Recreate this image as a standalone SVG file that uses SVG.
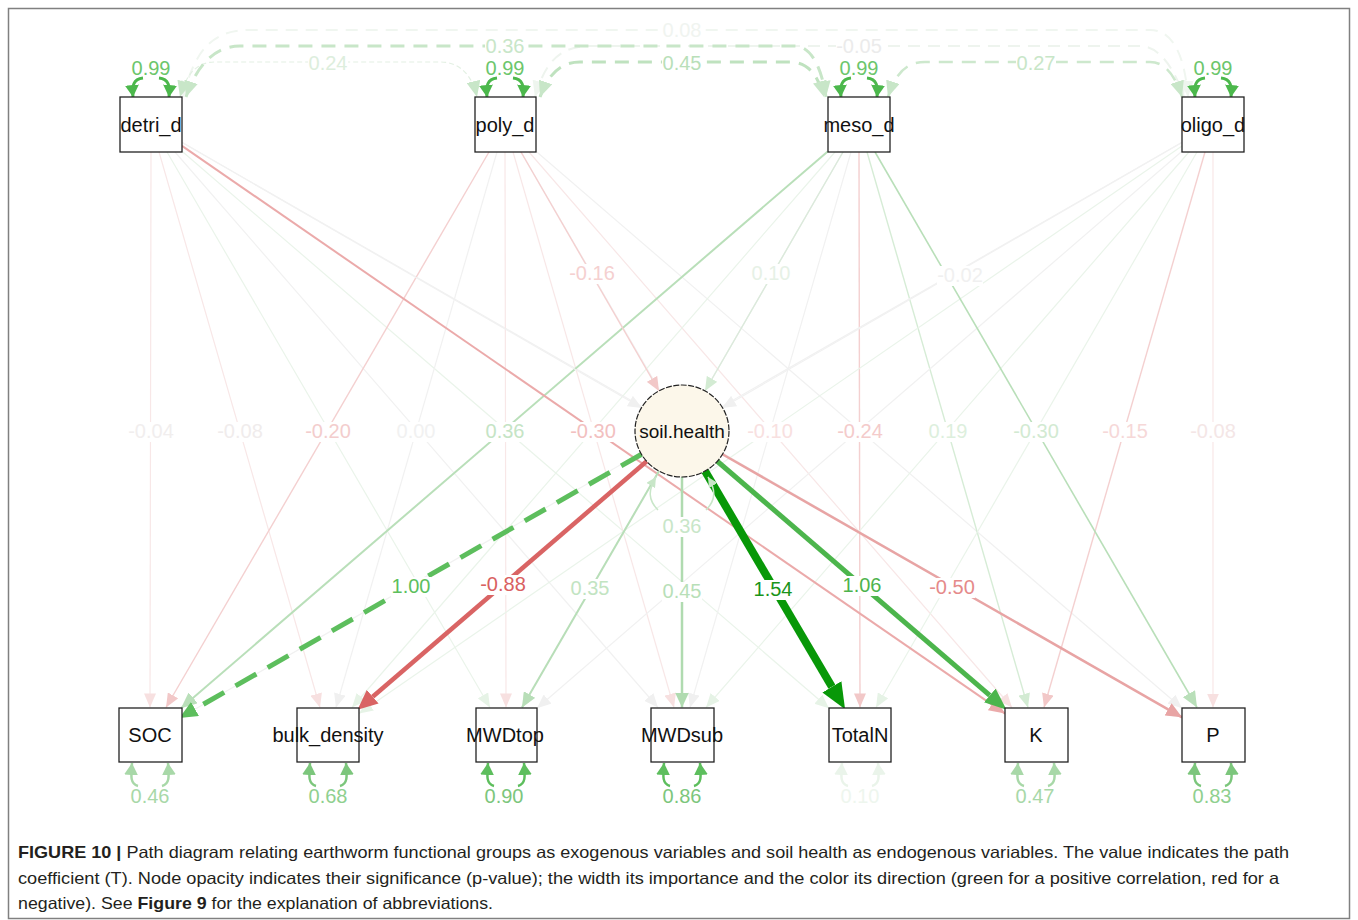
<svg xmlns="http://www.w3.org/2000/svg" width="1358" height="920" viewBox="0 0 1358 920">
<style>
text{font-family:"Liberation Sans",Arial,sans-serif}
.lbl{font-size:20px;text-anchor:middle}
.nt{font-size:20px;text-anchor:middle;fill:#111}
.box{fill:#fff;stroke:#222;stroke-width:1.3}
.lb{fill:#fff}
.vf{stroke:#F1F1F1;stroke-width:1.2;fill:none;marker-end:url(#a-vf)}
.fr{stroke:#F8E7E7;stroke-width:1.2;fill:none;marker-end:url(#a-fr)}
.fg{stroke:#EAF4EA;stroke-width:1.2;fill:none;marker-end:url(#a-fg)}
.r2{stroke:#EBAAAA;stroke-width:2;fill:none;marker-end:url(#a-r2)}
.g2{stroke:#B9DFB9;stroke-width:2;fill:none;marker-end:url(#a-g2)}
.pr{stroke:#F4D0D0;stroke-width:1.4;fill:none;marker-end:url(#a-pr)}
.pg{stroke:#D6ECD6;stroke-width:1.4;fill:none;marker-end:url(#a-pg)}
.self{fill:none;stroke:#4CB84C;stroke-width:3;marker-end:url(#a-self)}
.cap{font-family:"Liberation Sans Narrow","Liberation Sans",Arial,sans-serif;font-size:16.5px;fill:#231F20}
</style>
<defs>
<marker id="a-vf" markerUnits="userSpaceOnUse" markerWidth="14" markerHeight="12" refX="14" refY="6" orient="auto"><path d="M0,0L14,6L0,12z" fill="#F0F0F0"/></marker>
<marker id="a-fr" markerUnits="userSpaceOnUse" markerWidth="14" markerHeight="12" refX="14" refY="6" orient="auto"><path d="M0,0L14,6L0,12z" fill="#F7E0E0"/></marker>
<marker id="a-fg" markerUnits="userSpaceOnUse" markerWidth="14" markerHeight="12" refX="14" refY="6" orient="auto"><path d="M0,0L14,6L0,12z" fill="#E6F3E6"/></marker>
<marker id="a-r2" markerUnits="userSpaceOnUse" markerWidth="16" markerHeight="14" refX="16" refY="7" orient="auto"><path d="M0,0L16,7L0,14z" fill="#EBAAAA"/></marker>
<marker id="a-g2" markerUnits="userSpaceOnUse" markerWidth="16" markerHeight="14" refX="16" refY="7" orient="auto"><path d="M0,0L16,7L0,14z" fill="#B9DFB9"/></marker>
<marker id="a-pr" markerUnits="userSpaceOnUse" markerWidth="14" markerHeight="12" refX="14" refY="6" orient="auto"><path d="M0,0L14,6L0,12z" fill="#F2C8C8"/></marker>
<marker id="a-pg" markerUnits="userSpaceOnUse" markerWidth="14" markerHeight="12" refX="14" refY="6" orient="auto"><path d="M0,0L14,6L0,12z" fill="#D3EBD3"/></marker>
<marker id="a-self" markerUnits="userSpaceOnUse" markerWidth="12" markerHeight="14" refX="12" refY="7" orient="auto"><path d="M0,0L12,7L0,14z" fill="#4CB84C"/></marker>
<marker id="a-cov" markerUnits="userSpaceOnUse" markerWidth="16" markerHeight="14" refX="16" refY="7" orient="auto-start-reverse"><path d="M0,0L16,7L0,14z" fill="#C8E6C8"/></marker>
<marker id="a-covf" markerUnits="userSpaceOnUse" markerWidth="16" markerHeight="14" refX="16" refY="7" orient="auto-start-reverse"><path d="M0,0L16,7L0,14z" fill="#EEF5EE"/></marker>
<marker id="a-res1" markerUnits="userSpaceOnUse" markerWidth="12" markerHeight="14" refX="12" refY="7" orient="auto"><path d="M0,0L12,7L0,14z" fill="#A8D8A8"/></marker>
<marker id="a-res2" markerUnits="userSpaceOnUse" markerWidth="12" markerHeight="14" refX="12" refY="7" orient="auto"><path d="M0,0L12,7L0,14z" fill="#7CC67C"/></marker>
<marker id="a-res3" markerUnits="userSpaceOnUse" markerWidth="12" markerHeight="14" refX="12" refY="7" orient="auto"><path d="M0,0L12,7L0,14z" fill="#5DBE5D"/></marker>
<marker id="a-res4" markerUnits="userSpaceOnUse" markerWidth="12" markerHeight="14" refX="12" refY="7" orient="auto"><path d="M0,0L12,7L0,14z" fill="#EAF4EA"/></marker>
<marker id="a-sh" markerUnits="userSpaceOnUse" markerWidth="10" markerHeight="10" refX="10" refY="5" orient="auto"><path d="M0,0L10,5L0,10z" fill="#C8E6C8"/></marker>
<marker id="m-soc" markerUnits="userSpaceOnUse" markerWidth="18" markerHeight="16" refX="0" refY="8" orient="auto"><path d="M0,0L18,8L0,16z" fill="#5DBE5D"/></marker>
<marker id="m-bd" markerUnits="userSpaceOnUse" markerWidth="20" markerHeight="18" refX="0" refY="9" orient="auto"><path d="M0,0L20,9L0,18z" fill="#D96464"/></marker>
<marker id="m-mt" markerUnits="userSpaceOnUse" markerWidth="15" markerHeight="13" refX="15" refY="6.5" orient="auto"><path d="M0,0L15,6.5L0,13z" fill="#B8DEB8"/></marker>
<marker id="m-ms" markerUnits="userSpaceOnUse" markerWidth="15" markerHeight="14" refX="15" refY="7" orient="auto"><path d="M0,0L15,7L0,14z" fill="#B0DBB0"/></marker>
<marker id="m-tn" markerUnits="userSpaceOnUse" markerWidth="26" markerHeight="22" refX="0" refY="11" orient="auto"><path d="M0,0L26,11L0,22z" fill="#089808"/></marker>
<marker id="m-k" markerUnits="userSpaceOnUse" markerWidth="22" markerHeight="18" refX="0" refY="9" orient="auto"><path d="M0,0L22,9L0,18z" fill="#4CB54C"/></marker>
<marker id="m-p" markerUnits="userSpaceOnUse" markerWidth="16" markerHeight="14" refX="16" refY="7" orient="auto"><path d="M0,0L16,7L0,14z" fill="#E8A4A4"/></marker>
</defs>
<rect width="1358" height="920" fill="#fff"/>
<rect x="8.5" y="8.5" width="1341" height="910" fill="none" stroke="#808080" stroke-width="1.5"/>

<g id="connectors">
<!-- detri_d -> observed -->
<line class="fr" x1="151" y1="152" x2="150" y2="707.5"/>
<line class="fr" x1="159" y1="152" x2="320" y2="707.5"/>
<line class="fg" x1="167" y1="152" x2="490" y2="707.5"/>
<line class="vf" x1="175" y1="152" x2="658" y2="707.5"/>
<line class="fg" x1="182" y1="151.2" x2="829" y2="708.3"/>
<line class="vf" x1="182" y1="142.3" x2="1182" y2="717.2"/>
<!-- poly_d -> observed -->
<line class="pr" x1="489" y1="152" x2="166" y2="707.5"/>
<line class="vf" x1="497" y1="152" x2="336" y2="707.5"/>
<line class="fr" x1="505" y1="152" x2="506" y2="707.5"/>
<line class="fr" x1="513" y1="152" x2="674" y2="707.5"/>
<line class="vf" x1="521" y1="152" x2="844" y2="707.5"/>
<line class="fr" x1="529" y1="152" x2="1012" y2="707.5"/>
<line class="vf" x1="536" y1="151.2" x2="1182" y2="708.3"/>
<!-- meso_d -> observed -->
<line class="fg" x1="835" y1="152" x2="352" y2="707.5"/>
<line class="fg" x1="843" y1="152" x2="522" y2="707.5"/>
<line class="vf" x1="851" y1="152" x2="690" y2="707.5"/>
<line class="pr" x1="859" y1="152" x2="860" y2="707.5"/>
<line class="pg" x1="867" y1="152" x2="1028" y2="707.5"/>
<!-- oligo_d -> observed -->
<line class="vf" x1="1182" y1="142.3" x2="181" y2="717.2"/>
<line class="fg" x1="1182" y1="145.9" x2="359" y2="713.6"/>
<line class="vf" x1="1182" y1="151.3" x2="537" y2="708.2"/>
<line class="fg" x1="1189" y1="152" x2="706" y2="707.5"/>
<line class="fg" x1="1197" y1="152" x2="876" y2="707.5"/>
<line class="pr" x1="1205" y1="152" x2="1044" y2="707.5"/>
<line class="fr" x1="1213" y1="152" x2="1213" y2="707.5"/>
<!-- visible ones on top -->
<line class="g2" x1="828" y1="151.2" x2="181" y2="708.3"/>
<line class="g2" x1="875" y1="152" x2="1197" y2="707.5" style="stroke-width:1.6"/>
<line class="r2" x1="182" y1="145.9" x2="1005" y2="713.6"/>
<!-- exogenous -> soil.health -->
<line class="vf" x1="182" y1="142.4" x2="642" y2="408"/>
<line class="pr" x1="521" y1="152" x2="659" y2="391"/>
<line class="pg" x1="843" y1="152" x2="705" y2="391" style="stroke:#DCE9DC"/>
<line class="vf" x1="1182" y1="142.4" x2="722" y2="408"/>
<!-- soil.health -> observed -->
<line x1="642" y1="454" x2="195" y2="709" stroke="#5DBE5D" stroke-width="5" stroke-dasharray="24 13" marker-end="url(#m-soc)"/>
<line x1="647" y1="461" x2="372.7" y2="696.7" stroke="#D96464" stroke-width="4.5" marker-end="url(#m-bd)"/>
<line x1="659" y1="471" x2="522" y2="707.5" stroke="#B8DEB8" stroke-width="2" marker-end="url(#m-mt)"/>
<line x1="682" y1="477" x2="682" y2="707.5" stroke="#B0DBB0" stroke-width="2.5" marker-end="url(#m-ms)"/>
<line x1="705" y1="471" x2="831.9" y2="686.8" stroke="#089808" stroke-width="8" marker-end="url(#m-tn)"/>
<line x1="717" y1="461" x2="989.8" y2="695.4" stroke="#4CB54C" stroke-width="5" marker-end="url(#m-k)"/>
<line x1="722" y1="454" x2="1182" y2="717.3" stroke="#E8A4A4" stroke-width="2.5" marker-end="url(#m-p)"/>
<!-- covariances -->
<path d="M183,97 C195,50 212,30 250,30 L1150,30 C1175,30 1185,60 1188,97" fill="none" stroke="#F0F6F0" stroke-width="2" stroke-dasharray="12 8" marker-start="url(#a-covf)" marker-end="url(#a-covf)"/>
<path d="M535,97 C545,62 560,46 590,46 L1140,46 C1160,46 1175,70 1184,97" fill="none" stroke="#EEF4EE" stroke-width="2" stroke-dasharray="12 8" marker-start="url(#a-covf)" marker-end="url(#a-covf)"/>
<path d="M180,97 C186,75 196,62 215,62 L440,62 C460,62 472,75 477,97" fill="none" stroke="#E3F0E3" stroke-width="1.2" stroke-dasharray="5 3" marker-start="url(#a-cov)" marker-end="url(#a-cov)"/>
<path d="M186,97 C195,70 212,46 240,46 L795,46 C812,46 822,70 826,97" fill="none" stroke="#C8E6C8" stroke-width="3" stroke-dasharray="14 9" marker-start="url(#a-cov)" marker-end="url(#a-cov)"/>
<path d="M540,97 C548,75 560,62 580,62 L790,62 C808,62 818,75 824,97" fill="none" stroke="#BFE2BF" stroke-width="3" stroke-dasharray="14 9" marker-start="url(#a-cov)" marker-end="url(#a-cov)"/>
<path d="M888,97 C895,75 905,62 925,62 L1150,62 C1165,62 1175,75 1182,97" fill="none" stroke="#CDE8CD" stroke-width="2.5" stroke-dasharray="14 9" marker-start="url(#a-cov)" marker-end="url(#a-cov)"/>
<!-- variances of exogenous -->
<path class="self" d="M143,78 C133,79 132,86 133,97"/><path class="self" d="M159,78 C169,79 170,86 169,97"/>
<path class="self" d="M497,78 C487,79 486,86 487,97"/><path class="self" d="M513,78 C523,79 524,86 523,97"/>
<path class="self" d="M851,78 C841,79 840,86 841,97"/><path class="self" d="M867,78 C877,79 878,86 877,97"/>
<path class="self" d="M1205,78 C1195,79 1194,86 1195,97"/><path class="self" d="M1221,78 C1231,79 1232,86 1231,97"/>
<!-- residuals of observed -->
<g fill="none" stroke-width="2.5">
<path stroke="#A8D8A8" marker-end="url(#a-res1)" d="M138,786 C130,784 131,776 132,763"/><path stroke="#A8D8A8" marker-end="url(#a-res1)" d="M162,786 C170,784 169,776 168,763"/>
<path stroke="#7CC67C" marker-end="url(#a-res2)" d="M316,786 C308,784 309,776 310,763"/><path stroke="#7CC67C" marker-end="url(#a-res2)" d="M340,786 C348,784 347,776 346,763"/>
<path stroke="#5DBE5D" marker-end="url(#a-res3)" d="M494,786 C486,784 487,776 488,763"/><path stroke="#5DBE5D" marker-end="url(#a-res3)" d="M518,786 C526,784 525,776 524,763"/>
<path stroke="#5DBE5D" marker-end="url(#a-res3)" d="M670,786 C662,784 663,776 664,763"/><path stroke="#5DBE5D" marker-end="url(#a-res3)" d="M694,786 C702,784 701,776 700,763"/>
<path stroke="#EAF4EA" marker-end="url(#a-res4)" d="M848,786 C840,784 841,776 842,763"/><path stroke="#EAF4EA" marker-end="url(#a-res4)" d="M872,786 C880,784 879,776 878,763"/>
<path stroke="#A8D8A8" marker-end="url(#a-res1)" d="M1024,786 C1016,784 1017,776 1018,763"/><path stroke="#A8D8A8" marker-end="url(#a-res1)" d="M1048,786 C1056,784 1055,776 1054,763"/>
<path stroke="#7CC67C" marker-end="url(#a-res2)" d="M1201,786 C1193,784 1194,776 1195,763"/><path stroke="#7CC67C" marker-end="url(#a-res2)" d="M1225,786 C1233,784 1232,776 1231,763"/>
</g>
<!-- residual of soil.health -->
<path d="M658,510 C648,500 648,490 656,477" fill="none" stroke="#C8E6C8" stroke-width="1.5" marker-end="url(#a-sh)"/>
<path d="M706,510 C716,500 716,490 708,477" fill="none" stroke="#C8E6C8" stroke-width="1.5" marker-end="url(#a-sh)"/>
</g>

<g id="labels">
<g class="lb">
<rect x="130" y="422" width="43" height="20"/><rect x="218" y="422" width="45" height="20"/><rect x="305" y="422" width="46" height="20"/>
<rect x="396" y="422" width="40" height="20"/><rect x="485" y="422" width="40" height="20"/><rect x="570" y="422" width="46" height="20"/>
<rect x="747" y="422" width="46" height="20"/><rect x="837" y="422" width="46" height="20"/><rect x="928" y="422" width="40" height="20"/>
<rect x="1016" y="422" width="46" height="20"/><rect x="1102" y="422" width="46" height="20"/><rect x="1190" y="422" width="46" height="20"/>
<rect x="569" y="264" width="46" height="20"/><rect x="751" y="264" width="40" height="20"/><rect x="937" y="266" width="46" height="20"/>
<rect x="391" y="577" width="40" height="20"/><rect x="480" y="575" width="46" height="20"/><rect x="570" y="579" width="40" height="20"/>
<rect x="662" y="582" width="40" height="20"/><rect x="753" y="580" width="40" height="20"/><rect x="842" y="576" width="40" height="20"/>
<rect x="929" y="578" width="46" height="20"/><rect x="662" y="517" width="40" height="20"/>
<rect x="308" y="54" width="40" height="20"/><rect x="485" y="37" width="40" height="20"/><rect x="662" y="54" width="40" height="20"/>
<rect x="1016" y="54" width="40" height="20"/><rect x="836" y="37" width="46" height="20"/><rect x="662" y="21" width="40" height="20"/>
</g>
<text class="lbl" x="151" y="438" fill="#F1EEEE">-0.04</text>
<text class="lbl" x="240" y="438" fill="#F0ECEC">-0.08</text>
<text class="lbl" x="328" y="438" fill="#F3CDCD">-0.20</text>
<text class="lbl" x="416" y="438" fill="#F1F1F1">0.00</text>
<text class="lbl" x="505" y="438" fill="#C5E4C5">0.36</text>
<text class="lbl" x="593" y="438" fill="#F2C0C0">-0.30</text>
<text class="lbl" x="770" y="438" fill="#F8E0E0">-0.10</text>
<text class="lbl" x="860" y="438" fill="#F4CBCB">-0.24</text>
<text class="lbl" x="948" y="438" fill="#DDEFDD">0.19</text>
<text class="lbl" x="1036" y="438" fill="#D2EAD2">-0.30</text>
<text class="lbl" x="1125" y="438" fill="#F6D8D8">-0.15</text>
<text class="lbl" x="1213" y="438" fill="#F4E6E6">-0.08</text>
<text class="lbl" x="592" y="280" fill="#F5D0D0">-0.16</text>
<text class="lbl" x="771" y="280" fill="#E6F1E6">0.10</text>
<text class="lbl" x="960" y="282" fill="#F0F0F0">-0.02</text>
<text class="lbl" x="411" y="593" fill="#5DBF5D">1.00</text>
<text class="lbl" x="503" y="591" fill="#D96060">-0.88</text>
<text class="lbl" x="590" y="595" fill="#C2E4C2">0.35</text>
<text class="lbl" x="682" y="598" fill="#B8DFB8">0.45</text>
<text class="lbl" x="773" y="596" fill="#1A941A">1.54</text>
<text class="lbl" x="862" y="592" fill="#4DB34D">1.06</text>
<text class="lbl" x="952" y="594" fill="#E58A8A">-0.50</text>
<text class="lbl" x="682" y="533" fill="#C8E6C8">0.36</text>
<text class="lbl" x="328" y="70" fill="#DDEEDD">0.24</text>
<text class="lbl" x="505" y="53" fill="#C8E6C8">0.36</text>
<text class="lbl" x="682" y="70" fill="#B9DFB9">0.45</text>
<text class="lbl" x="1036" y="70" fill="#C8E6C8">0.27</text>
<text class="lbl" x="859" y="53" fill="#EBEBEB">-0.05</text>
<text class="lbl" x="682" y="37" fill="#F0F4F0">0.08</text>
<text class="lbl" x="151" y="75" fill="#6CC66C">0.99</text>
<text class="lbl" x="505" y="75" fill="#6CC66C">0.99</text>
<text class="lbl" x="859" y="75" fill="#6CC66C">0.99</text>
<text class="lbl" x="1213" y="75" fill="#6CC66C">0.99</text>
<text class="lbl" x="150" y="803" fill="#A8D8A8">0.46</text>
<text class="lbl" x="328" y="803" fill="#8FD08F">0.68</text>
<text class="lbl" x="504" y="803" fill="#7CC67C">0.90</text>
<text class="lbl" x="682" y="803" fill="#7CC67C">0.86</text>
<text class="lbl" x="860" y="803" fill="#EEF6EE">0.10</text>
<text class="lbl" x="1035" y="803" fill="#A8D8A8">0.47</text>
<text class="lbl" x="1212" y="803" fill="#8FD08F">0.83</text>
</g>

<g id="node-detri_d"><rect class="box" x="120" y="97" width="62" height="55"/><text class="nt" x="151" y="132">detri_d</text></g>
<g id="node-poly_d"><rect class="box" x="475" y="97" width="61" height="55"/><text class="nt" x="505" y="132">poly_d</text></g>
<g id="node-meso_d"><rect class="box" x="828" y="97" width="62" height="55"/><text class="nt" x="859" y="132">meso_d</text></g>
<g id="node-oligo_d"><rect class="box" x="1182" y="97" width="62" height="55"/><text class="nt" x="1213" y="132">oligo_d</text></g>
<g id="node-soil_health"><ellipse cx="682" cy="431" rx="47" ry="46" fill="#FCF7EA" stroke="#222" stroke-width="1.2" stroke-dasharray="6 1.5"/><text class="nt" x="682" y="438" style="font-size:19px">soil.health</text></g>
<g id="node-SOC"><rect class="box" x="119" y="708" width="63" height="54"/><text class="nt" x="150" y="742">SOC</text></g>
<g id="node-bulk_density"><rect class="box" x="297" y="708" width="62" height="54"/><text class="nt" x="328" y="742">bulk_density</text></g>
<g id="node-MWDtop"><rect class="box" x="476" y="708" width="61" height="54"/><text class="nt" x="505" y="742">MWDtop</text></g>
<g id="node-MWDsub"><rect class="box" x="651" y="708" width="63" height="54"/><text class="nt" x="682" y="742">MWDsub</text></g>
<g id="node-TotalN"><rect class="box" x="829" y="708" width="62" height="54"/><text class="nt" x="860" y="742">TotalN</text></g>
<g id="node-K"><rect class="box" x="1005" y="708" width="63" height="54"/><text class="nt" x="1036" y="742">K</text></g>
<g id="node-P"><rect class="box" x="1182" y="708" width="63" height="54"/><text class="nt" x="1213" y="742">P</text></g>

<g id="caption">
<text class="cap" x="18" y="858" textLength="1271" lengthAdjust="spacingAndGlyphs"><tspan font-weight="bold">FIGURE 10 |</tspan> Path diagram relating earthworm functional groups as exogenous variables and soil health as endogenous variables. The value indicates the path</text>
<text class="cap" x="18" y="884" textLength="1261" lengthAdjust="spacingAndGlyphs">coefficient (T). Node opacity indicates their significance (p-value); the width its importance and the color its direction (green for a positive correlation, red for a</text>
<text class="cap" x="18" y="909" textLength="475" lengthAdjust="spacingAndGlyphs">negative). See <tspan font-weight="bold">Figure 9</tspan> for the explanation of abbreviations.</text>
</g>
</svg>
